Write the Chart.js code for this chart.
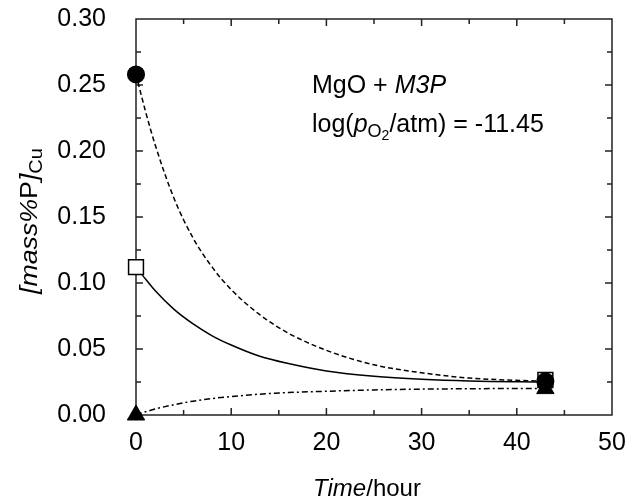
<!DOCTYPE html>
<html>
<head>
<meta charset="utf-8">
<script src="https://cdn.jsdelivr.net/npm/chart.js@4"></script>
<style>
  html,body{margin:0;padding:0;background:#fff}
  canvas{display:block}
</style>
</head>
<body>
<canvas id="c" width="634" height="503"></canvas>
<script>
// 數據：讀自原圖（時間 / hour，[mass%P]Cu）
const timeGrid   = [0, 1, 2, 4, 6, 8, 10, 13, 16, 20, 25, 30, 35, 43];
const curveDash  = [0.258, 0.230, 0.205, 0.164, 0.134, 0.112, 0.095, 0.076, 0.062, 0.049, 0.038, 0.032, 0.028, 0.0255];
const curveSolid = [0.112, 0.103, 0.0943, 0.080, 0.069, 0.060, 0.053, 0.0445, 0.039, 0.0334, 0.0294, 0.0271, 0.0258, 0.025];
const curveDot   = [0, 0.0024, 0.0045, 0.0078, 0.0105, 0.0125, 0.014, 0.0158, 0.017, 0.018, 0.019, 0.0196, 0.0199, 0.0202];

const measTime   = [0, 43];
const measCircle = [0.258, 0.0255];
const measSquare = [0.112, 0.0265];
const measTri    = [0, 0.020];

const xTickStep = 5, xMin = 0, xMax = 50;
const yTickStep = 0.025, yMin = 0, yMax = 0.30;

const FONT = "'Liberation Sans', Arial, sans-serif";
const pts = (xs, ys) => xs.map((x,i)=>({x, y:ys[i]}));

// 框線 + 內向刻度
const framePlugin = {
  id:'frame',
  beforeDatasetsDraw(chart){
    const {ctx, chartArea:a, scales:{x, y}} = chart;
    ctx.save();
    ctx.strokeStyle = '#222';
    ctx.lineWidth = 1.5;
    ctx.strokeRect(a.left, a.top, a.right - a.left, a.bottom - a.top);
    ctx.beginPath();
    for(const t of x.ticks){
      if(t.value <= xMin || t.value >= xMax) continue;
      const px = x.getPixelForValue(t.value);
      const len = Math.round(t.value / xTickStep) % 2 === 0 ? 7 : 5;
      ctx.moveTo(px, a.bottom); ctx.lineTo(px, a.bottom - len);
      ctx.moveTo(px, a.top);    ctx.lineTo(px, a.top + len);
    }
    for(const t of y.ticks){
      if(t.value <= yMin + 1e-9 || t.value >= yMax - 1e-9) continue;
      const py = y.getPixelForValue(t.value);
      const len = Math.round(t.value / yTickStep) % 2 === 0 ? 7 : 5;
      ctx.moveTo(a.left, py);  ctx.lineTo(a.left + len, py);
      ctx.moveTo(a.right, py); ctx.lineTo(a.right - len, py);
    }
    ctx.stroke();
    ctx.restore();
  }
};

// 混合字體（斜體、下標）的文字段
function runsWidth(ctx, runs){
  let w = 0;
  for(const r of runs){ ctx.font = r.font; w += ctx.measureText(r.t).width; }
  return w;
}
function drawRuns(ctx, runs, x, y){
  for(const r of runs){
    ctx.font = r.font;
    ctx.fillText(r.t, x, y + (r.dy || 0));
    x += ctx.measureText(r.t).width;
  }
}

const textPlugin = {
  id:'texts',
  afterDraw(chart){
    const ctx = chart.ctx;
    ctx.save();
    ctx.fillStyle = '#000';
    ctx.textBaseline = 'alphabetic';
    ctx.textAlign = 'left';

    // 標註
    drawRuns(ctx, [
      {t:'MgO + ', font:`25px ${FONT}`},
      {t:'M3P',    font:`italic 25px ${FONT}`}
    ], 312, 93);
    drawRuns(ctx, [
      {t:'log(', font:`25px ${FONT}`},
      {t:'p',    font:`italic 25px ${FONT}`},
      {t:'O',    font:`18px ${FONT}`, dy:5},
      {t:'2',    font:`14px ${FONT}`, dy:8},
      {t:'/atm) = -11.45', font:`25px ${FONT}`}
    ], 312, 132);

    // X 軸標題
    const xr = [
      {t:'Time',  font:`italic 24px ${FONT}`},
      {t:'/hour', font:`24px ${FONT}`}
    ];
    drawRuns(ctx, xr, 367 - runsWidth(ctx, xr)/2, 496);

    // Y 軸標題（旋轉）
    const yr = [
      {t:'[mass%', font:`italic 24px ${FONT}`},
      {t:'P',      font:`24px ${FONT}`},
      {t:']',      font:`italic 24px ${FONT}`},
      {t:'Cu',     font:`18px ${FONT}`, dy:5}
    ];
    const yw = runsWidth(ctx, yr);
    const stretch = 146 / yw;
    ctx.translate(37, 221);
    ctx.rotate(-Math.PI/2);
    ctx.scale(stretch, 1);
    drawRuns(ctx, yr, -yw/2, 0);
    ctx.restore();
  }
};

const lineBase = { type:'line', borderColor:'#000', borderWidth:1.5, pointRadius:0,
                   fill:false, cubicInterpolationMode:'monotone' };
const markBase = { type:'scatter', borderColor:'#000', borderWidth:1.5, clip:false };

new Chart(document.getElementById('c'), {
  data:{
    datasets:[
      { ...markBase, label:'circle',   data:pts(measTime, measCircle), pointStyle:'circle',   pointRadius:8.3,  backgroundColor:'#000' },
      { ...markBase, label:'square',   data:pts(measTime, measSquare), pointStyle:'rect',     pointRadius:10.5, backgroundColor:'#fff' },
      { ...markBase, label:'triangle', data:pts(measTime, measTri),    pointStyle:'triangle', pointRadius:10,   backgroundColor:'#000', borderWidth:1 },
      { ...lineBase, label:'dash',  data:pts(timeGrid, curveDash),  borderDash:[5,3] },
      { ...lineBase, label:'solid', data:pts(timeGrid, curveSolid) },
      { ...lineBase, label:'dot',   data:pts(timeGrid, curveDot),   borderDash:[6,3,2,3] }
    ]
  },
  options:{
    responsive:false, animation:false,
    layout:{ padding:{ top:19, right:22, left:0, bottom:0 } },
    plugins:{ legend:{ display:false }, tooltip:{ enabled:false } },
    scales:{
      x:{
        type:'linear', min:xMin, max:xMax,
        grid:{ display:false, drawTicks:false }, border:{ display:false },
        ticks:{ stepSize:xTickStep, autoSkip:false, maxRotation:0, padding:13, color:'#000',
                font:{ family:FONT, size:25 },
                callback:v => Math.round(v/xTickStep)%2===0 ? String(v) : '' },
        afterFit:s => { s.height = 88; s.paddingLeft = 0; s.paddingRight = 0; }
      },
      y:{
        type:'linear', min:yMin, max:yMax,
        grid:{ display:false, drawTicks:false }, border:{ display:false },
        ticks:{ stepSize:yTickStep, autoSkip:false, padding:30, color:'#000',
                font:{ family:FONT, size:25 },
                callback:v => Math.round(v/yTickStep)%2===0 ? v.toFixed(2) : '' },
        afterFit:s => { s.width = 136; s.paddingTop = 0; s.paddingBottom = 0; }
      }
    }
  },
  plugins:[framePlugin, textPlugin]
});
</script>
</body>
</html>
